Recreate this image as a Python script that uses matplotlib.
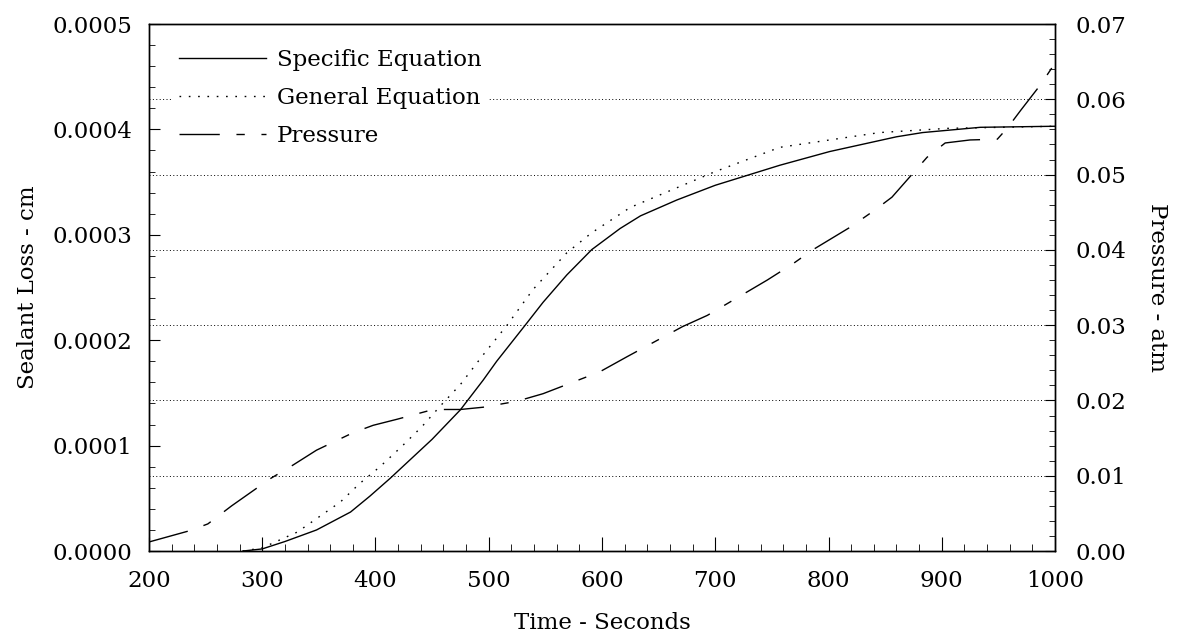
import matplotlib

matplotlib.use("Agg")
import matplotlib.pyplot as plt
from matplotlib.ticker import MultipleLocator, FormatStrFormatter

# Specific equation (solid), sealant loss in cm
spec_t = [283, 300, 320, 348, 378, 395, 413, 428, 450, 475, 495, 507, 532, 548,
          569, 591, 616, 634, 666, 700, 757, 801, 860, 883, 934, 1000]
spec_loss = [0.0, 0.02e-4, 0.09e-4, 0.20e-4, 0.37e-4, 0.52e-4, 0.69e-4, 0.84e-4,
             1.06e-4, 1.34e-4, 1.62e-4, 1.80e-4, 2.14e-4, 2.36e-4, 2.62e-4,
             2.86e-4, 3.06e-4, 3.18e-4, 3.33e-4, 3.47e-4, 3.66e-4, 3.79e-4,
             3.93e-4, 3.97e-4, 4.02e-4, 4.03e-4]

# General equation (dotted)
gen_t = [283, 300, 331, 369, 386, 404, 423, 441, 458, 475, 495, 516, 539, 569,
         591, 625, 700, 757, 845, 905, 1000]
gen_loss = [0.0, 0.03e-4, 0.18e-4, 0.465e-4, 0.64e-4, 0.80e-4, 0.99e-4,
            1.18e-4, 1.385e-4, 1.58e-4, 1.86e-4, 2.14e-4, 2.48e-4, 2.83e-4,
            3.02e-4, 3.26e-4, 3.60e-4, 3.83e-4, 3.97e-4, 4.01e-4, 4.03e-4]

# Pressure (right axis), atm
p_t = [200, 236, 252, 273, 307, 327, 348, 380, 398, 419, 451, 475, 495, 525, 548,
       598, 622, 671, 693, 746, 769, 786, 819, 841, 856, 887, 903, 925, 949, 958,
       970, 987, 1000]
pressure = [0.0012, 0.0027, 0.0036, 0.0060, 0.0096, 0.0114, 0.0134, 0.0157,
            0.0167, 0.0175, 0.0188, 0.0188, 0.0191, 0.0199, 0.0209, 0.0238,
            0.0258, 0.0298, 0.0313, 0.0360, 0.0382, 0.0400, 0.0430, 0.0453,
            0.0470, 0.0523, 0.0542, 0.0546, 0.0547, 0.0562, 0.0586, 0.0619, 0.0648]

plt.rcParams.update({
    "font.family": "DejaVu Serif",
    "font.size": 16.5,
    "axes.linewidth": 1.0,
})

fig = plt.figure(figsize=(11.82, 6.42), dpi=100)
ax = fig.add_axes([0.126, 0.1417, 0.7666, 0.8209])
ax2 = ax.twinx()

h1, = ax.plot(spec_t, spec_loss, color="black", lw=1.0, label="Specific Equation")
h2, = ax.plot(gen_t, gen_loss, color="black", lw=1.0, ls=(0, (1.2, 5.5)),
              label="General Equation")
h3, = ax2.plot(p_t, pressure, color="black", lw=1.0, ls=(0, (29, 12, 6, 12)),
               label="Pressure")

ax.set_xlim(200, 1000)
ax.set_ylim(0, 0.0005)
ax2.set_ylim(0, 0.07)

ax.xaxis.set_major_locator(MultipleLocator(100))
ax.xaxis.set_minor_locator(MultipleLocator(20))
ax.yaxis.set_major_locator(MultipleLocator(0.0001))
ax.yaxis.set_minor_locator(MultipleLocator(0.00002))
ax.yaxis.set_major_formatter(FormatStrFormatter("%.4f"))
ax2.yaxis.set_major_locator(MultipleLocator(0.01))
ax2.yaxis.set_minor_locator(MultipleLocator(0.002))
ax2.yaxis.set_major_formatter(FormatStrFormatter("%.2f"))

ax.tick_params(axis="both", which="both", direction="in", top=False, right=False)
ax.tick_params(axis="y", which="major", length=8, pad=12)
ax.tick_params(axis="y", which="minor", length=4)
ax.tick_params(axis="x", which="major", length=10, pad=14)
ax.tick_params(axis="x", which="minor", length=5)
ax2.tick_params(axis="y", which="both", direction="in")
ax2.tick_params(axis="y", which="major", length=7, pad=15)
ax2.tick_params(axis="y", which="minor", length=4)

ax2.yaxis.grid(True, which="major", color="black", lw=0.7, ls=(0, (1, 2.5)))

ax.set_xlabel("Time - Seconds", labelpad=14)
ax.set_ylabel("Sealant Loss - cm", labelpad=10)
ax2.set_ylabel("Pressure - atm", rotation=-90, labelpad=30)

# legend on the twin axes so its white box hides the grid behind the text
leg = ax2.legend(handles=[h1, h2, h3], loc="upper left", frameon=True,
                 facecolor="white", edgecolor="none", framealpha=1.0,
                 fancybox=False, borderpad=0.3,
                 handlelength=3.8, handletextpad=0.45, labelspacing=0.7,
                 borderaxespad=0.0, bbox_to_anchor=(0.026, 0.965))

fig.savefig("out.png", dpi=100)
